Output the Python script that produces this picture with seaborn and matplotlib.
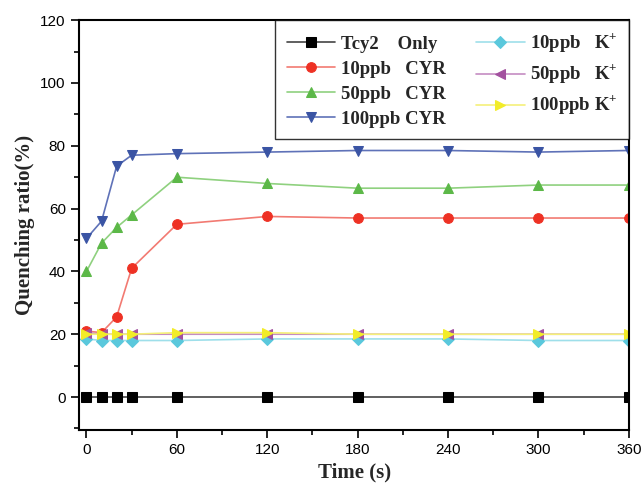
import matplotlib
matplotlib.use("Agg")
import matplotlib.pyplot as plt
import seaborn as sns
import pandas as pd
from matplotlib.ticker import MultipleLocator

# time points (s)
times = [0, 10, 20, 30, 60, 120, 180, 240, 300, 360]

# quenching ratio (%) per condition
tcy2_only = [0, 0, 0, 0, 0, 0, 0, 0, 0, 0]
cyr_10 = [21, 20.5, 25.5, 41, 55, 57.5, 57, 57, 57, 57]
cyr_50 = [40, 49, 54, 58, 70, 68, 66.5, 66.5, 67.5, 67.5]
cyr_100 = [50.5, 56, 73.5, 77, 77.5, 78, 78.5, 78.5, 78, 78.5]
k_10 = [18.5, 18, 18, 18, 18, 18.5, 18.5, 18.5, 18, 18]
k_50 = [20.5, 20, 20, 20, 20, 20, 20, 20, 20, 20]
k_100 = [20, 20, 20, 20, 20.5, 20.5, 20, 20, 20, 20]

labels = ["Tcy2    Only", "10ppb   CYR", "50ppb   CYR", "100ppb CYR",
          "10ppb   K$^{+}$", "50ppb   K$^{+}$", "100ppb K$^{+}$"]
series = [tcy2_only, cyr_10, cyr_50, cyr_100, k_10, k_50, k_100]
colors = ["#000000", "#ee3124", "#5cb848", "#3a54a4", "#5ac8dc", "#a3519f", "#f2ec28"]
markers = ["s", "o", "^", "v", "D", "<", ">"]
line_colors = ["#444444", "#f27a72", "#8fd17f", "#5f72b8", "#9edfea", "#c58cc2", "#f5f07a"]

sns.set_theme(style="ticks")
plt.rcParams["font.family"] = ["Liberation Sans", "DejaVu Sans"]
plt.rcParams["mathtext.fontset"] = "custom"
plt.rcParams["mathtext.rm"] = "Liberation Serif:bold"

fig, ax = plt.subplots(figsize=(6.42, 4.92), dpi=100)
fig.subplots_adjust(left=0.123, right=0.98, bottom=0.126, top=0.959)

for vals, lab, c, m, lc in zip(series, labels, colors, markers, line_colors):
    df = pd.DataFrame({"time": times, "ratio": vals})
    ms = 6 if m == "D" else 7
    sns.lineplot(data=df, x="time", y="ratio", ax=ax, color=lc, linewidth=1.2,
                 marker=m, markersize=ms, markerfacecolor=c, markeredgecolor=c,
                 label=lab)

ax.set_xlim(-5, 360.3)
ax.set_ylim(-10.5, 120)
ax.xaxis.set_major_locator(MultipleLocator(60))
ax.xaxis.set_minor_locator(MultipleLocator(30))
ax.yaxis.set_major_locator(MultipleLocator(20))
ax.yaxis.set_minor_locator(MultipleLocator(10))
ax.tick_params(axis="both", which="major", direction="out", length=6, width=1.2,
               labelsize=11, color="black", labelcolor="black")
ax.tick_params(axis="both", which="minor", direction="out", length=3.5, width=1.2,
               color="black")

for sp in ax.spines.values():
    sp.set_visible(True)
    sp.set_linewidth(1.5)
    sp.set_color("black")

ax.set_xlabel("Time (s)", fontsize=15, fontweight="bold", family="Liberation Serif")
ax.set_ylabel("Quenching ratio(%)", fontsize=15, fontweight="bold", family="Liberation Serif")

leg = ax.legend(ncol=2, loc="upper right", bbox_to_anchor=(1.0, 1.0), borderaxespad=0,
                prop={"family": "Liberation Serif", "weight": "bold", "size": 13.5},
                frameon=True, fancybox=False, edgecolor="black", handlelength=2.6,
                labelspacing=0.42, columnspacing=1.6, handletextpad=0.3,
                borderpad=0.6)
leg.get_frame().set_linewidth(1.0)

plt.savefig("out.png", dpi=100)
plt.close(fig)
